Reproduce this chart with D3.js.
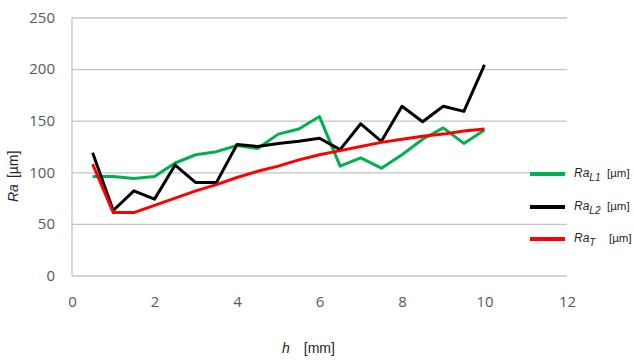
<!DOCTYPE html>
<html>
<head>
<meta charset="utf-8">
<script src="https://cdn.jsdelivr.net/npm/d3@7/dist/d3.min.js"></script>
<style>
  html, body { margin: 0; padding: 0; background: #fff; }
  svg { display: block; }
</style>
</head>
<body>
<svg id="chart" width="634" height="360"></svg>
<script>
// Surface roughness Ra versus depth h
const depths = [0.5, 1, 1.5, 2, 2.5, 3, 3.5, 4, 4.5, 5, 5.5, 6, 6.5, 7, 7.5, 8, 8.5, 9, 9.5, 10];
const raL1 = [96, 96, 94, 96, 109, 117, 120, 126, 123, 137, 142, 154, 106, 114, 104, 117, 132, 143, 128, 141];
const raL2 = [119, 63, 82, 74, 107, 90, 90, 127, 125, 128, 130, 133, 122, 147, 130, 164, 149, 164, 159, 204];
const raT  = [108, 61, 61, 68, 75, 82, 88, 95, 101, 106, 112, 117, 121, 125, 129, 132, 135, 137, 140, 142];
const xTicks = [0, 2, 4, 6, 8, 10, 12];
const yTicks = [0, 50, 100, 150, 200, 250];

const seriesList = [
  { sub: "L1", values: raL1, color: "#00b050" },
  { sub: "L2", values: raL2, color: "#000000" },
  { sub: "T",  values: raT,  color: "#ff0000" }
];

const svg = d3.select("#chart");
const plot = { left: 72, right: 567, top: 17.5, bottom: 275.5 };

const x = d3.scaleLinear().domain([0, 12]).range([plot.left, plot.right]);
const y = d3.scaleLinear().domain([0, 250]).range([plot.bottom, plot.top]);

const tickFont = "'Open Sans', 'Liberation Sans', sans-serif";

// horizontal gridlines with value labels
const yAxis = d3.axisLeft(y)
  .tickValues(yTicks)
  .tickSize(-(plot.right - plot.left))
  .tickPadding(17)
  .tickFormat(d3.format("d"));
const gy = svg.append("g")
  .attr("transform", `translate(${plot.left},0)`)
  .call(yAxis);
gy.select(".domain").remove();
gy.selectAll(".tick line").attr("stroke", "#c4c4c4").attr("stroke-width", 1.3);
gy.selectAll(".tick text")
  .attr("fill", "#595959")
  .style("font-family", tickFont)
  .style("font-size", "15px");

// vertical axis line
svg.append("line")
  .attr("x1", plot.left).attr("x2", plot.left)
  .attr("y1", y(250)).attr("y2", y(0))
  .attr("stroke", "#c4c4c4").attr("stroke-width", 1.3);

// x tick labels
const xAxis = d3.axisBottom(x)
  .tickValues(xTicks)
  .tickSize(0)
  .tickPadding(21)
  .tickFormat(d3.format("d"));
const gx = svg.append("g")
  .attr("transform", `translate(0,${plot.bottom})`)
  .call(xAxis);
gx.select(".domain").remove();
gx.selectAll(".tick text")
  .attr("fill", "#595959")
  .style("font-family", tickFont)
  .style("font-size", "15px");

// data lines
const line = d3.line()
  .x((d, i) => x(depths[i]))
  .y(d => y(d));

seriesList.forEach(s => {
  svg.append("path")
    .datum(s.values)
    .attr("fill", "none")
    .attr("stroke", s.color)
    .attr("stroke-width", 3)
    .attr("stroke-linejoin", "round")
    .attr("d", line);
});

// legend
const labelFont = "'Liberation Sans', Arial, sans-serif";
const legendY = [174, 207, 239];
const legend = svg.append("g");
seriesList.forEach((s, i) => {
  const g = legend.append("g").attr("transform", `translate(0,${legendY[i]})`);
  g.append("line")
    .attr("x1", 530).attr("x2", 565)
    .attr("y1", 0).attr("y2", 0)
    .attr("stroke", s.color).attr("stroke-width", 4);
  const t = g.append("text")
    .attr("x", 574).attr("y", 3)
    .attr("fill", "#262626")
    .style("font-family", labelFont)
    .style("font-size", "12px");
  t.append("tspan").attr("font-style", "italic").text("Ra");
  t.append("tspan").attr("font-style", "italic").attr("font-size", "10px").attr("dy", 4).text(s.sub);
  g.append("text")
    .attr("x", i === 2 ? 609 : 607).attr("y", 3)
    .attr("fill", "#262626")
    .style("font-family", labelFont)
    .style("font-size", "11.5px")
    .text("[µm]");
});

// axis titles
const xTitle = svg.append("text")
  .attr("x", 282).attr("y", 353)
  .attr("fill", "#262626")
  .style("font-family", labelFont)
  .style("font-size", "14px");
xTitle.append("tspan").attr("font-style", "italic").text("h");
xTitle.append("tspan").attr("dx", 14).text("[mm]");

const yTitle = svg.append("text")
  .attr("transform", "translate(18,202) rotate(-90)")
  .attr("fill", "#262626")
  .style("font-family", labelFont)
  .style("font-size", "14px");
yTitle.append("tspan").attr("font-style", "italic").attr("fill", "#1f2a44").text("Ra");
yTitle.append("tspan").attr("dx", 6).text("[µm]");
</script>
</body>
</html>
